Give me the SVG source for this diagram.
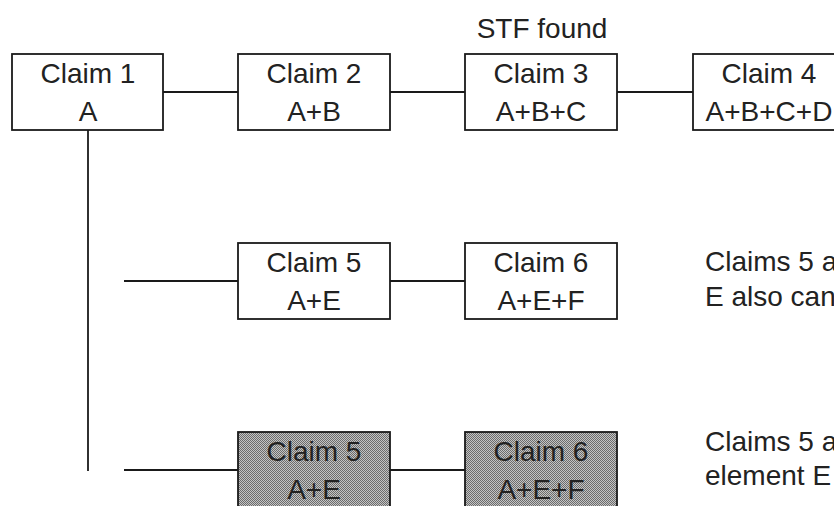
<svg xmlns="http://www.w3.org/2000/svg" width="834" height="506" viewBox="0 0 834 506">
<defs>
<pattern id="dots" width="2" height="2" patternUnits="userSpaceOnUse">
<rect width="2" height="2" fill="#c4c4c4"/>
<rect x="0" y="0" width="1" height="1" fill="#6c6c6c"/>
<rect x="1" y="1" width="1" height="1" fill="#6c6c6c"/>
</pattern>
</defs>
<style>
.box{fill:#fff;stroke:#1a1a1a;stroke-width:1.8}
.shaded{fill:url(#dots);stroke:#1a1a1a;stroke-width:1.8}
.t{font-family:"Liberation Sans",Arial,sans-serif;font-size:28px;fill:#222;text-anchor:middle}
.r{font-family:"Liberation Sans",Arial,sans-serif;font-size:28px;fill:#222}
.c{stroke:#1a1a1a;stroke-width:1.8;fill:none}
</style>
<rect width="834" height="506" fill="#fff"/>
<g id="connectors">
<line class="c" x1="163" y1="92" x2="238" y2="92"/>
<line class="c" x1="390" y1="92" x2="465" y2="92"/>
<line class="c" x1="617" y1="92" x2="693" y2="92"/>
<line class="c" x1="88" y1="130" x2="88" y2="471"/>
<line class="c" x1="124" y1="281" x2="238" y2="281"/>
<line class="c" x1="390" y1="281" x2="465" y2="281"/>
<line class="c" x1="124" y1="470" x2="238" y2="470"/>
<line class="c" x1="390" y1="470" x2="465" y2="470"/>
</g>
<g id="stf-label"><text class="t" x="542" y="38">STF found</text></g>
<g id="claim1">
<rect class="box" x="12" y="54" width="151" height="76"/>
<text class="t" x="88" y="83">Claim 1</text>
<text class="t" x="88" y="121">A</text>
</g>
<g id="claim2">
<rect class="box" x="238" y="54" width="152" height="76"/>
<text class="t" x="314" y="83">Claim 2</text>
<text class="t" x="314" y="121">A+B</text>
</g>
<g id="claim3">
<rect class="box" x="465" y="54" width="152" height="76"/>
<text class="t" x="541" y="83">Claim 3</text>
<text class="t" x="541" y="121">A+B+C</text>
</g>
<g id="claim4">
<rect class="box" x="693" y="54" width="152" height="76"/>
<text class="t" x="769" y="83">Claim 4</text>
<text class="t" x="769" y="121">A+B+C+D</text>
</g>
<g id="claim5a">
<rect class="box" x="238" y="243" width="152" height="76"/>
<text class="t" x="314" y="272">Claim 5</text>
<text class="t" x="314" y="310">A+E</text>
</g>
<g id="claim6a">
<rect class="box" x="465" y="243" width="152" height="76"/>
<text class="t" x="541" y="272">Claim 6</text>
<text class="t" x="541" y="310">A+E+F</text>
</g>
<g id="note1">
<text class="r" x="705" y="271">Claims 5 a</text>
<text class="r" x="705" y="306">E also can</text>
</g>
<g id="claim5b">
<rect class="shaded" x="238" y="432" width="152" height="76"/>
<text class="t" x="314" y="461">Claim 5</text>
<text class="t" x="314" y="499">A+E</text>
</g>
<g id="claim6b">
<rect class="shaded" x="465" y="432" width="152" height="76"/>
<text class="t" x="541" y="461">Claim 6</text>
<text class="t" x="541" y="499">A+E+F</text>
</g>
<g id="note2">
<text class="r" x="705" y="451">Claims 5 a</text>
<text class="r" x="705" y="485">element E</text>
</g>
</svg>
